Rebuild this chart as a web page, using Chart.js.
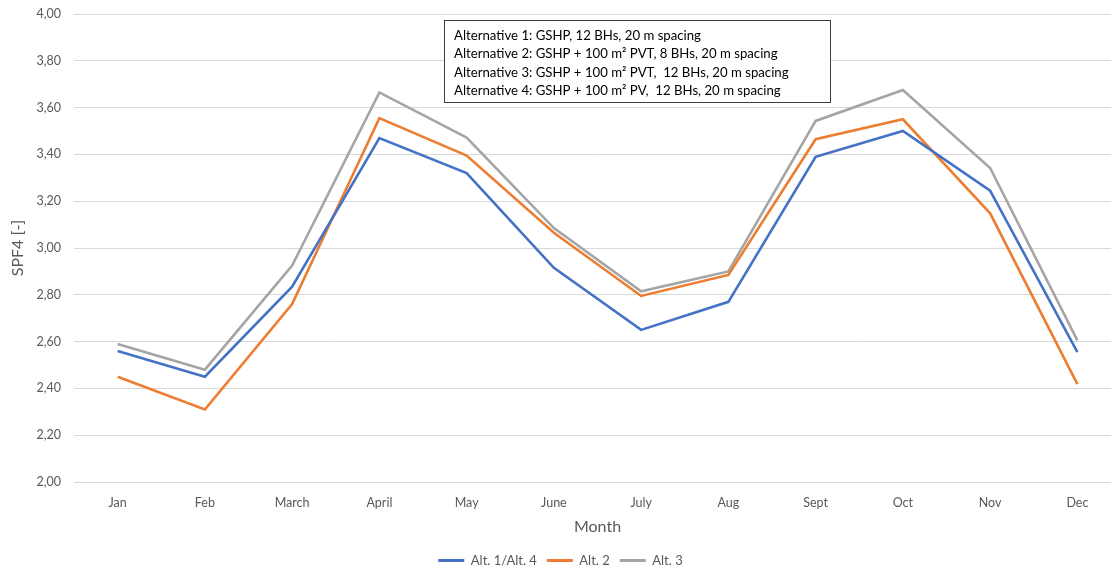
<!DOCTYPE html>
<html>
<head>
<meta charset="utf-8">
<title>SPF4 per month</title>
<script src="https://cdn.jsdelivr.net/npm/chart.js@4"></script>
<style>
  html, body { margin: 0; padding: 0; background: #fff; overflow: hidden; }
  #wrap { width: 1121px; height: 571px; position: relative; }
</style>
</head>
<body>
<div id="wrap"><canvas id="spfChart"></canvas></div>
<script>
// Months on the x axis
const months = ['Jan', 'Feb', 'March', 'April', 'May', 'June', 'July', 'Aug', 'Sept', 'Oct', 'Nov', 'Dec'];

// Monthly SPF4 for each alternative
const alt1alt4 = [2.56, 2.45, 2.835, 3.47, 3.32, 2.915, 2.65, 2.77, 3.39, 3.50, 3.245, 2.555];
const alt2 = [2.45, 2.31, 2.76, 3.555, 3.395, 3.065, 2.795, 2.885, 3.465, 3.55, 3.148, 2.418];
const alt3 = [2.59, 2.48, 2.925, 3.665, 3.472, 3.085, 2.815, 2.90, 3.543, 3.675, 3.342, 2.605];

const seriesNames = ['Alt. 1/Alt. 4', 'Alt. 2', 'Alt. 3'];
const seriesColors = ['#4472C4', '#ED7D31', '#A5A5A5'];

// Lines of the description box
const noteLines = [
    'Alternative 1: GSHP, 12 BHs, 20 m spacing',
    'Alternative 2: GSHP + 100 m\u00B2 PVT, 8 BHs, 20 m spacing',
    'Alternative 3: GSHP + 100 m\u00B2 PVT,  12 BHs, 20 m spacing',
    'Alternative 4: GSHP + 100 m\u00B2 PV,  12 BHs, 20 m spacing'
];

const fontFamily = 'Lato, "Open Sans", sans-serif';
const axisGray = '#595959';

// Text box in the upper middle of the plot
const noteBox = {
    id: 'noteBox',
    afterDraw(chart) {
        const ctx = chart.ctx;
        ctx.save();
        ctx.fillStyle = '#ffffff';
        ctx.fillRect(444.5, 20.5, 386, 82);
        ctx.strokeStyle = '#3f3f3f';
        ctx.lineWidth = 1;
        ctx.strokeRect(444.5, 20.5, 386, 82);
        ctx.fillStyle = '#000000';
        ctx.font = '13.2px ' + fontFamily;
        ctx.textBaseline = 'middle';
        noteLines.forEach((line, i) => {
            ctx.fillText(line, 454, 36 + i * 18.2);
        });
        ctx.restore();
    }
};

const datasets = [alt1alt4, alt2, alt3].map((values, i) => ({
    label: seriesNames[i],
    data: values,
    borderColor: seriesColors[i],
    backgroundColor: seriesColors[i],
    borderWidth: 2.6,
    pointRadius: 0,
    tension: 0
}));

new Chart(document.getElementById('spfChart').getContext('2d'), {
    type: 'line',
    data: { labels: months, datasets: datasets },
    options: {
        responsive: true,
        maintainAspectRatio: false,
        animation: false,
        layout: { padding: { top: 14, right: 0, left: 0, bottom: -6 } },
        plugins: {
            tooltip: { enabled: false },
            legend: {
                position: 'bottom',
                labels: {
                    boxWidth: 26,
                    boxHeight: 3,
                    padding: 10,
                    color: axisGray,
                    font: { family: fontFamily, size: 13 },
                    generateLabels(chart) {
                        const items = Chart.defaults.plugins.legend.labels.generateLabels(chart);
                        items.forEach(item => { item.lineWidth = 0; });
                        return items;
                    }
                }
            }
        },
        scales: {
            x: {
                offset: true,
                grid: { display: false, drawTicks: false },
                border: { color: '#d9d9d9' },
                ticks: {
                    padding: 13,
                    color: axisGray,
                    font: { family: fontFamily, size: 12.5 }
                },
                title: {
                    display: true,
                    text: 'Month',
                    color: axisGray,
                    padding: { top: 4, bottom: 8 },
                    font: { family: fontFamily, size: 16 }
                },
                afterFit(scale) { scale.height = 62; }
            },
            y: {
                min: 2,
                max: 4,
                // invisible tick marks keep the labels clear of the plot
                grid: { color: '#d9d9d9', drawTicks: true, tickLength: 13, tickColor: 'rgba(0,0,0,0)' },
                border: { display: false },
                ticks: {
                    stepSize: 0.2,
                    padding: 0,
                    color: axisGray,
                    font: { family: fontFamily, size: 12.5 },
                    callback: v => v.toFixed(2).replace('.', ',')
                },
                title: {
                    display: true,
                    text: 'SPF4 [-]',
                    color: axisGray,
                    padding: { top: 8, bottom: 4 },
                    font: { family: fontFamily, size: 16 }
                },
                afterFit(scale) { scale.width = 74; }
            }
        }
    },
    plugins: [noteBox]
});
</script>
</body>
</html>
